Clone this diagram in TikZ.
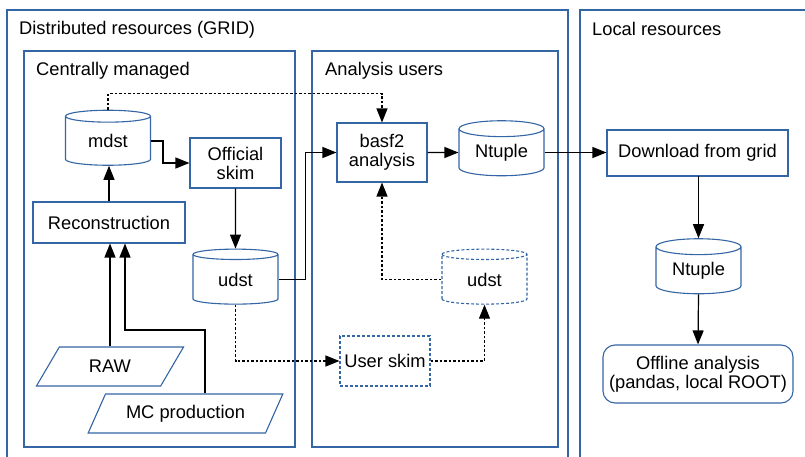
\documentclass[tikz,border=0pt]{standalone}
\usepackage{fontspec}
\setmainfont{Liberation Sans}
\usetikzlibrary{arrows.meta, positioning, shapes.geometric}
\definecolor{gridblue}{RGB}{52,101,164}

\begin{document}
\begin{tikzpicture}[x=1pt, y=-1pt,
    font=\fontsize{18.3}{19}\selectfont,
    area/.style={draw=gridblue, line width=2pt},
    areatitle/.style={anchor=west, inner sep=0pt},
    block/.style={rectangle, draw=gridblue, line width=1.1pt, align=center, inner sep=0pt},
    store/.style={cylinder, shape border rotate=90, aspect=0.3, draw=gridblue, line width=1.1pt,
                  minimum width=85pt, minimum height=55pt, inner sep=0pt},
    source/.style={trapezium, trapezium left angle=53, trapezium right angle=127,
                   trapezium stretches=true,
                   draw=gridblue, line width=1.1pt, minimum height=39pt, inner sep=0pt},
    userdash/.style={dash pattern=on 3pt off 2pt},
    flow/.style={-{Triangle[length=14pt, width=11pt]}, line width=1.2pt},
    dotflow/.style={flow, dash pattern=on 2.5pt off 2pt}
]
    \clip (0,0) rectangle (805,457);

    % Bereiche
    \draw[area] (7,10) rectangle (568,470);
    \draw[area] (580,10) rectangle (820,470);
    \draw[area] (24,51) rectangle (295,447);
    \draw[area] (312,51) rectangle (558,447);

    \node[areatitle] (tgrid) at (19,30) {Distributed resources (GRID)};
    \node[areatitle] (tcentral) at (36,71) {Centrally managed};
    \node[areatitle] (tusers) at (325,71) {Analysis users};
    \node[areatitle] (tlocal) at (592,29) {Local resources};

    % --- zentral ---
    \node[store] (mdst) at (108,141) {mdst};
    \node[block, minimum width=91pt, minimum height=50pt] (skim) at (235.5,163) {Official\\skim};
    \node[block, minimum width=152pt, minimum height=41pt] (reco) at (109,222.5) {Reconstruction};
    \node[store] (udstc) at (235.5,279.5) {udst};
    \node[source, minimum width=148pt] (raw) at (110,366.5) {RAW};
    \node[source, minimum width=195pt] (mc) at (185.5,413.5) {MC production};

    % --- Nutzer ---
    \node[block, minimum width=90pt, minimum height=59pt] (basf) at (382,152.5) {basf2\\analysis};
    \node[store] (ntup) at (501.5,152.5) {Ntuple};
    \node[store, userdash] (udsta) at (484.5,279.5) {udst};
    \node[block, userdash, minimum width=90pt, minimum height=50pt] (uskim) at (385,361) {User skim};

    % --- lokal ---
    \node[block, minimum width=181pt, minimum height=46pt] (dl) at (697.5,153) {Download from grid};
    \node[store] (ntupl) at (698.5,270.5) {Ntuple};
    \node[block, rounded corners=12pt, minimum width=190pt, minimum height=58pt] (offl) at (698,374)
        {Offline analysis\\(pandas, local ROOT)};

    % Verbindungen
    \coordinate (mcbend) at (125,330);
    \draw[flow] (raw.north) -- (raw.north |- reco.south);
    \draw[flow] ([xshift=19.5pt]mc.north) |- (mcbend) -- (mcbend |- reco.south);
    \draw[flow] (reco.north) -- (reco.north |- mdst.south);
    \draw[flow] (mdst.east) -- ++(12,0) |- (skim.west);
    \draw[flow] (skim.south) -- (udstc.north);
    \draw[flow] (udstc.east) -- ++(27,0) |- (basf.west);
    \draw[dotflow] (mdst.north) -- ++(0,-16) -| (basf.north);
    \draw[flow] (basf.east) -- (ntup.west);
    \draw[flow] (ntup.east) -- (ntup.east -| dl.west);
    \draw[flow] (dl.south) -- (dl.south -| ntupl.north) -- (ntupl.north);
    \draw[flow] (ntupl.south) -- (offl.north);
    \draw[dotflow] (udstc.south) |- (uskim.west);
    \draw[dotflow] (uskim.east) -| (udsta.south);
    \draw[dotflow] (udsta.west) -| (basf.south);
\end{tikzpicture}
\end{document}
